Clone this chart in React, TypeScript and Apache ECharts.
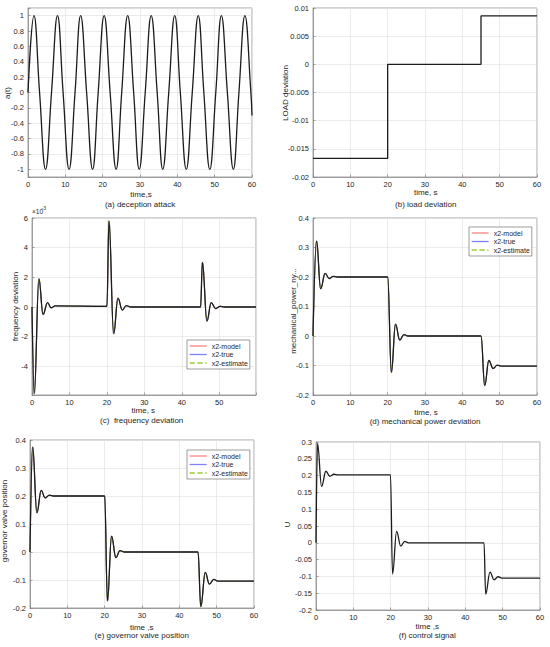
import React, { useEffect, useRef } from "react";
import * as echarts from "echarts";

// ---------------- data ----------------
// (a) deception attack a(t): zero crossings and extrema
const attackT = [0, 1.6, 3.1, 4.7, 6.3, 7.9, 9.4, 11.0, 12.6, 14.1, 15.7, 17.3, 18.8, 20.4, 22.0, 23.6, 25.1, 26.7, 28.3, 29.8, 31.4, 33.0, 34.6, 36.1, 37.7, 39.3, 40.8, 42.4, 44.0, 45.6, 47.1, 48.7, 50.3, 51.8, 53.4, 55.0, 56.5, 58.1, 59.7, 60];
const attackV = [0, 1, 0, -1, 0, 1, 0, -1, 0, 1, 0, -1, 0, 1, 0, -1, 0, 1, 0, -1, 0, 1, 0, -1, 0, 1, 0, -1, 0, 1, 0, -1, 0, 1, 0, -1, 0, 1, 0, -0.3];

// (b) load deviation (step)
const loadT = [0, 20, 20, 45, 45, 60];
const loadV = [-0.0167, -0.0167, 0, 0, 0.0086, 0.0086];

// (c) frequency deviation, in units of 1e-3
const freqT = [0, 0.6, 1.85, 2.95, 4.15, 5.1, 6.2, 20.0, 20.55, 21.8, 22.95, 24.1, 25.2, 26.3, 45.0, 45.5, 46.7, 47.85, 49.0, 50.2, 51.3, 59.8];
const freqV = [0, -5.85, 1.9, -0.5, 0.3, -0.06, 0.08, 0.05, 5.8, -1.8, 0.6, -0.2, 0.1, 0, 0, 3.0, -0.95, 0.3, -0.1, 0.05, 0, 0];

// (d) mechanical power deviation
const mechT = [0, 0.95, 2.05, 3.25, 4.35, 5.4, 6.5, 20.0, 21.0, 22.1, 23.25, 24.35, 25.4, 45.0, 46.0, 47.1, 48.25, 49.35, 50.4, 60];
const mechV = [0, 0.322, 0.16, 0.212, 0.195, 0.202, 0.2, 0.2, -0.123, 0.04, -0.014, 0.005, 0, 0, -0.168, -0.083, -0.11, -0.099, -0.102, -0.102];

// (e) governor valve position
const govT = [0, 0.7, 1.85, 3.0, 4.05, 5.2, 6.3, 20.0, 20.75, 21.85, 23.0, 24.1, 25.2, 45.0, 45.75, 46.95, 48.05, 49.2, 50.3, 60];
const govV = [0, 0.375, 0.14, 0.22, 0.193, 0.203, 0.2, 0.2, -0.175, 0.057, -0.02, 0.005, 0, 0, -0.195, -0.073, -0.115, -0.098, -0.104, -0.104];

// (f) control signal
const ctrlT = [0, 0.4, 1.5, 2.65, 3.7, 4.8, 5.9, 19.95, 20.5, 21.6, 22.7, 23.75, 24.8, 45.0, 45.45, 46.6, 47.7, 48.75, 49.8, 60];
const ctrlV = [0, 0.296, 0.168, 0.213, 0.198, 0.204, 0.202, 0.202, -0.093, 0.034, -0.01, 0.004, 0, 0, -0.153, -0.087, -0.11, -0.101, -0.105, -0.105];

const legendNames = ["x2-model", "x2-true", "x2-estimate"];
const titles = [
  "(a) deception attack",
  "(b) load deviation",
  "(c)  frequency deviation",
  "(d) mechanical power deviation",
  "(e) governor valve position",
  "(f) control signal",
];
const xNames = ["time,s", "time, s", "time, s", "time, s", "time ,s", "time ,s"];
const yNames = ["a(t)", "LOAD deviation", "frequency deviation", "mechanical_power_ny...", "governor valve position", "U"];

// ---------------- layout / style ----------------
const FONT = '"Liberation Sans", Arial, Helvetica, sans-serif';
const AXIS = "#808080";
const GRIDC = "#e2e2e2";
const TXT = "#262626";

const panels = [
  { left: 28, top: 8, width: 224, height: 169, xMax: 60, yMin: -1.1, yMax: 1.1, yStep: 0.2, yNameX: 7.5, yNameY: 93, xNameX: 141, xNameY: 194.3, titleX: 140, titleY: 204 },
  { left: 313, top: 8, width: 224, height: 169, xMax: 60, yMin: -0.02, yMax: 0.01, yStep: 0.005, yNameX: 285, yNameY: 93, xNameX: 425.7, xNameY: 192.7, titleX: 425.7, titleY: 204 },
  { left: 32, top: 218, width: 224, height: 177, xMax: 59.8, yMin: -5.93, yMax: 6, yStep: 2, yNameX: 15.7, yNameY: 306.5, xNameX: 143.3, xNameY: 410.7, titleX: 141.7, titleY: 420.7 },
  { left: 313, top: 218, width: 224, height: 177, xMax: 60, yMin: -0.2, yMax: 0.4, yStep: 0.1, yNameX: 293, yNameY: 311, xNameX: 426, xNameY: 412, titleX: 425, titleY: 421.3 },
  { left: 30, top: 440, width: 224, height: 168, xMax: 60, yMin: -0.2, yMax: 0.4, yStep: 0.1, yNameX: 4, yNameY: 521, xNameX: 141.7, xNameY: 627, titleX: 141.7, titleY: 635.7 },
  { left: 316, top: 442, width: 224, height: 168, xMax: 60, yMin: -0.2, yMax: 0.3, yStep: 0.05, yNameX: 287, yNameY: 524.5, xNameX: 427.3, xNameY: 626, titleX: 427.3, titleY: 635 },
];

const legendPos = [
  { left: 187, top: 340 },
  { left: 469, top: 227 },
  { left: 187, top: 450 },
];

const zip = (t: number[], v: number[]) => t.map((x, i) => [x, v[i]]);

const stepFormatter = (step: number) => (val: number) => {
  const k = val / step;
  if (Math.abs(k - Math.round(k)) > 1e-6) return "";
  const r = parseFloat((Math.round(k) * step).toFixed(6));
  return r === 0 ? "0" : String(r);
};

function buildOption() {
  const grid = panels.map((p) => ({
    left: p.left,
    top: p.top,
    width: p.width,
    height: p.height,
    show: true,
    borderColor: AXIS,
    borderWidth: 0.7,
    backgroundColor: "#ffffff",
    containLabel: false,
    outerBoundsMode: "none",
  }));

  const common = (i: number) => ({
    gridIndex: i,
    type: "value",
    axisLine: { show: true, onZero: false, lineStyle: { color: AXIS, width: 0.7 } },
    axisTick: { show: true, inside: true, length: 2.5, lineStyle: { color: AXIS, width: 0.7 } },
    splitLine: { show: true, lineStyle: { color: GRIDC, width: 0.7 } },
  });

  const xAxis = panels.map((p, i) => ({
    ...common(i),
    min: 0,
    max: p.xMax,
    minInterval: 10,
    maxInterval: 10,
    axisLabel: { fontSize: 7.5, fontFamily: FONT, color: TXT, margin: 3, formatter: stepFormatter(10) },
  }));

  const yAxis = panels.map((p, i) => ({
    ...common(i),
    min: p.yMin,
    max: p.yMax,
    minInterval: p.yStep,
    maxInterval: p.yStep,
    axisLabel: { fontSize: 7.5, fontFamily: FONT, color: TXT, margin: 4, formatter: stepFormatter(p.yStep) },
  }));

  const black = (i: number, data: number[][], smooth: number | boolean, mono?: string) => ({
    type: "line",
    name: "trace" + i,
    xAxisIndex: i,
    yAxisIndex: i,
    data,
    symbol: "none",
    smooth,
    smoothMonotone: mono,
    lineStyle: { color: "#1c1c1c", width: 1.3 },
    emphasis: { disabled: true },
    silent: true,
    z: 5,
  });

  const colored = (i: number, data: number[][]) => [
    { name: legendNames[0], color: "#ff8080", type: "solid" },
    { name: legendNames[1], color: "#8080ff", type: "solid" },
    { name: legendNames[2], color: "#9acd32", type: "dashed" },
  ].map((s) => ({
    type: "line",
    name: s.name,
    xAxisIndex: i,
    yAxisIndex: i,
    data,
    symbol: "none",
    smooth: 0.4,
    smoothMonotone: "x",
    itemStyle: { color: s.color },
    lineStyle: { color: s.color, width: 1, type: s.type },
    emphasis: { disabled: true },
    silent: true,
    z: 3,
  }));

  const freqData = zip(freqT, freqV);
  const mechData = zip(mechT, mechV);
  const govData = zip(govT, govV);
  const ctrlData = zip(ctrlT, ctrlV);

  const series: any[] = [
    black(0, zip(attackT, attackV), 0.45),
    black(1, zip(loadT, loadV), false),
    ...colored(2, freqData),
    black(2, freqData, 0.4, "x"),
    ...colored(3, mechData),
    black(3, mechData, 0.4, "x"),
    ...colored(4, govData),
    black(4, govData, 0.4, "x"),
    black(5, ctrlData, 0.4, "x"),
  ];

  const legend = legendPos.map((l) => ({
    show: true,
    data: legendNames,
    orient: "vertical",
    left: l.left,
    top: l.top,
    itemWidth: 17,
    itemHeight: 8,
    itemGap: 0.5,
    padding: [2, 2, 2, 2],
    backgroundColor: "#ffffff",
    borderColor: "#5a5a5a",
    borderWidth: 0.6,
    borderRadius: 0,
    selectedMode: false,
    itemStyle: { opacity: 0 },
    lineStyle: { width: 1.3 },
    textStyle: { fontSize: 7, fontFamily: FONT, color: TXT, lineHeight: 8 },
  }));

  const txt = (text: string, x: number, y: number, size: number, rot = 0, align = "center") => ({
    type: "text",
    x,
    y,
    rotation: rot,
    z: 100,
    silent: true,
    style: { text, fill: TXT, font: `${size}px ${FONT}`, align, verticalAlign: "middle" },
  });

  const graphic: any[] = [];
  panels.forEach((p, i) => {
    graphic.push(txt(titles[i], p.titleX, p.titleY, 8));
    graphic.push(txt(xNames[i], p.xNameX, p.xNameY, 8));
    graphic.push(txt(yNames[i], p.yNameX, p.yNameY, 8, Math.PI / 2));
  });
  graphic.push(txt("\u00d710", 32, 211, 6.5, 0, "left"));
  graphic.push(txt("-3", 41.5, 207.8, 5, 0, "left"));

  return {
    animation: false,
    backgroundColor: "#ffffff",
    textStyle: { fontFamily: FONT },
    grid,
    xAxis,
    yAxis,
    legend,
    series,
    graphic,
  };
}

export default function App() {
  const ref = useRef<HTMLDivElement>(null);
  useEffect(() => {
    if (!ref.current) return;
    const chart = echarts.init(ref.current, undefined, { renderer: "svg" });
    chart.setOption(buildOption() as any);
    return () => chart.dispose();
  }, []);
  return (
    <div
      ref={ref}
      style={{ position: "absolute", left: 0, top: 0, width: 550, height: 647, background: "#fff" }}
    />
  );
}
